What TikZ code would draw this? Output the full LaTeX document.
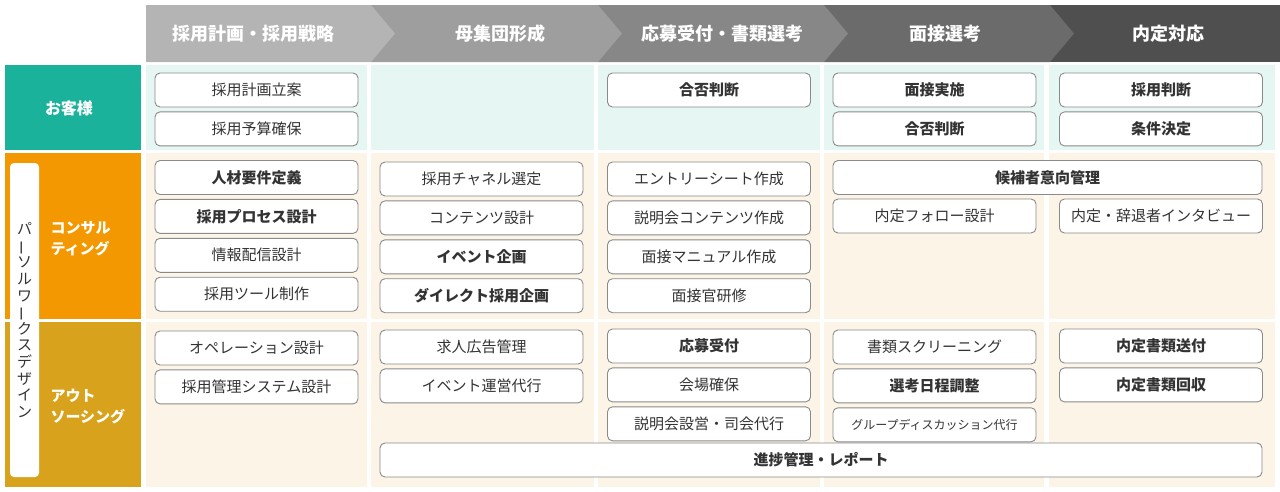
\documentclass[tikz,border=0pt]{standalone}
\usepackage{fontspec}
\setmainfont{Noto Sans CJK JP}
\usetikzlibrary{positioning}
\definecolor{clientc}{HTML}{1AB29B}
\definecolor{clientbg}{HTML}{E6F6F3}
\definecolor{consultc}{HTML}{F39800}
\definecolor{outc}{HTML}{D9A21C}
\definecolor{workbg}{HTML}{FCF4E6}
\definecolor{boxline}{HTML}{8A8A8A}
\definecolor{boxtext}{HTML}{333333}
\definecolor{ph1}{HTML}{B4B4B4}
\definecolor{ph2}{HTML}{9E9E9E}
\definecolor{ph3}{HTML}{878787}
\definecolor{ph4}{HTML}{6B6B6B}
\definecolor{ph5}{HTML}{4F4F4F}
\tikzset{cell/.style={draw=boxline, fill=white, rounded corners=5pt, line width=0.9pt, minimum width=203pt, minimum height=34pt, inner sep=0pt, text=boxtext, font=\fontsize{15}{18}\selectfont},
  cellb/.style={cell, font=\fontsize{15}{18}\selectfont\bfseries},
  phase/.style={text=white, font=\fontsize{18}{22}\selectfont\bfseries},
  side/.style={text=white, align=left, font=\fontsize{15}{21}\selectfont\bfseries},}

\begin{document}
\begin{tikzpicture}[x=1pt, y=-1pt]
  \useasboundingbox (0,0) rectangle (1280,491);
  % Phases
  \fill[ph5] (1050,5) rectangle (1280,62);
  \foreach \l/\r/\c in {824/1050/ph4, 598/824/ph3, 371/598/ph2, 146/371/ph1}
    \fill[\c] (\l,5) -- (\r,5) -- (\r+24,33.5) -- (\r,62) -- (\l,62) -- cycle;
  \node[phase] (p1) at (253,33.5) {採用計画・採用戦略};
  \node[phase] (p2) at (500,33.5) {母集団形成};
  \node[phase] (p3) at (722,33.5) {応募受付・書類選考};
  \node[phase] (p4) at (945,33.5) {面接選考};
  \node[phase] (p5) at (1168,33.5) {内定対応};
  % Grid
  \foreach \l/\r in {146/367, 371/594, 598/820, 824/1044, 1049/1275} {
    \fill[clientbg] (\l,65) rectangle (\r,150);
    \fill[workbg] (\l,153) rectangle (\r,319);
    \fill[workbg] (\l,322) rectangle (\r,487);
  }
  \fill[clientc] (5,65) rectangle (141,150);
  \fill[consultc] (5,153) rectangle (141,319);
  \fill[outc] (5,322) rectangle (141,487);
  % Rows
  \node[side] (client) at (69,108) {\fontsize{16}{20}\selectfont お客様};
  \node[side, anchor=west] (consult) at (47,239) {コンサル\\ティング};
  \node[side, anchor=west] (outsrc) at (47,407) {アウト\\ソーシング};
  \node[fill=white, rounded corners=4pt, minimum width=29pt, minimum height=314pt, inner sep=0pt, align=center, text=boxtext, font=\fontsize{15}{16.6}\selectfont] (brand) at (24.5,320)
    {パ\\\rotatebox[origin=c]{90}{ー}\\ソ\\ル\\ワ\\\rotatebox[origin=c]{90}{ー}\\ク\\ス\\デ\\ザ\\イ\\ン};
  % Client tasks
  \node[cell] (k1a) at (256.5,90) {採用計画立案};
  \node[cell, below=4pt of k1a] (k1b) {採用予算確保};
  \node[cellb] (k3a) at (709,90) {合否判断};
  \node[cellb] (k4a) at (934.5,90) {面接実施};
  \node[cellb, below=4pt of k4a] (k4b) {合否判断};
  \node[cellb] (k5a) at (1161,90) {採用判断};
  \node[cellb, below=4pt of k5a] (k5b) {条件決定};
  % Consulting tasks
  \node[cellb] (c1a) at (256.5,177.5) {人材要件定義};
  \node[cellb, below=4pt of c1a] (c1b) {採用プロセス設計};
  \node[cell, below=4pt of c1b] (c1c) {情報配信設計};
  \node[cell, below=4pt of c1c] (c1d) {採用ツール制作};
  \node[cell] (c2a) at (481.5,179) {採用チャネル選定};
  \node[cell, below=4pt of c2a] (c2b) {コンテンツ設計};
  \node[cellb, below=4pt of c2b] (c2c) {イベント企画};
  \node[cellb, below=4pt of c2c] (c2d) {ダイレクト採用企画};
  \node[cell] (c3a) at (709,179) {エントリーシート作成};
  \node[cell, below=4pt of c3a] (c3b) {説明会コンテンツ作成};
  \node[cell, below=4pt of c3b] (c3c) {面接マニュアル作成};
  \node[cell, below=4pt of c3c] (c3d) {面接官研修};
  \node[cellb, minimum width=429pt] (c45) at (1047.5,177.5) {候補者意向管理};
  \node[cell] (c4b) at (934.5,216) {内定フォロー設計};
  \node[cell] (c5b) at (1161,216) {内定・辞退者インタビュー};
  % Outsourcing tasks
  \node[cell] (o1a) at (256.5,348) {オペレーション設計};
  \node[cell, below=4pt of o1a] (o1b) {採用管理システム設計};
  \node[cell] (o2a) at (481.5,347) {求人広告管理};
  \node[cell, below=4pt of o2a] (o2b) {イベント運営代行};
  \node[cellb] (o3a) at (709,346) {応募受付};
  \node[cell, below=4pt of o3a] (o3b) {会場確保};
  \node[cell, below=4pt of o3b] (o3c) {説明会設営・司会代行};
  \node[cell] (o4a) at (934.5,347) {書類スクリーニング};
  \node[cellb, below=4pt of o4a] (o4b) {選考日程調整};
  \node[cell, below=4pt of o4b, font=\fontsize{12}{14}\selectfont] (o4c) {グループディスカッション代行};
  \node[cellb] (o5a) at (1161,346) {内定書類送付};
  \node[cellb, below=4pt of o5a] (o5b) {内定書類回収};
  \node[cellb, minimum width=882pt] (track) at (821,460) {進捗管理・レポート};
\end{tikzpicture}
\end{document}
